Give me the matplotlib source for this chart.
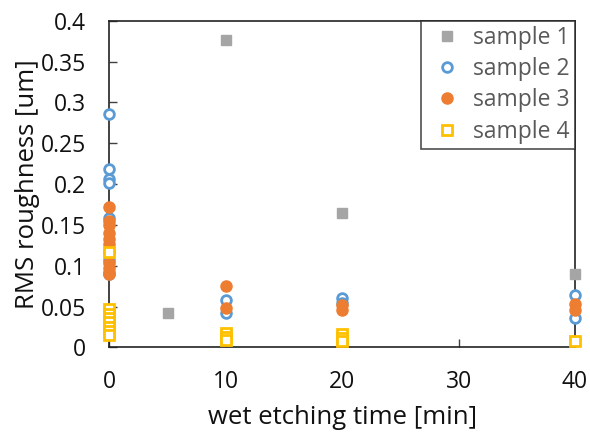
import matplotlib
matplotlib.use('Agg')
import matplotlib.pyplot as plt

plt.rcParams['font.family'] = ['Open Sans', 'DejaVu Sans']

# sample 1 (gray filled squares)
s1_x = [5, 10, 20, 40]
s1_y = [0.042, 0.376, 0.165, 0.090]

# sample 2 (blue open circles)
s2_x = [0, 0, 0, 0, 0, 0, 0, 0, 10, 10, 20, 20, 40, 40]
s2_y = [0.286, 0.218, 0.206, 0.201, 0.159, 0.117, 0.107, 0.090,
        0.058, 0.042, 0.060, 0.054, 0.064, 0.036]

# sample 3 (orange filled circles)
s3_x = [0, 0, 0, 0, 0, 0, 0, 0, 0, 0, 0, 10, 10, 20, 20, 40, 40]
s3_y = [0.172, 0.155, 0.150, 0.140, 0.133, 0.126, 0.117, 0.103, 0.097, 0.092,
        0.090, 0.0755, 0.048, 0.052, 0.046, 0.053, 0.046]

# sample 4 (yellow open squares)
s4_x = [0, 0, 0, 0, 0, 0, 0, 0, 10, 10, 10, 20, 20, 20, 40]
s4_y = [0.117, 0.047, 0.041, 0.036, 0.031, 0.025, 0.020, 0.015,
        0.018, 0.013, 0.009, 0.016, 0.012, 0.008, 0.008]

x_ticks = [0, 10, 20, 30, 40]
y_ticks = [0, 0.05, 0.1, 0.15, 0.2, 0.25, 0.3, 0.35, 0.4]
y_labels = ['0', '0.05', '0.1', '0.15', '0.2', '0.25', '0.3', '0.35', '0.4']

fig = plt.figure(figsize=(5.9, 4.32), dpi=100)
ax = fig.add_axes([0.1853, 0.196, 0.7893, 0.756])

ax.plot(s1_x, s1_y, ls='none', marker='s', ms=7, color='#A5A5A5',
        mec='#A5A5A5', label='sample 1', clip_on=False, zorder=3)
ax.plot(s2_x, s2_y, ls='none', marker='o', ms=7, mfc='white', mec='#5B9BD5',
        mew=2, label='sample 2', clip_on=False, zorder=3)
ax.plot(s3_x, s3_y, ls='none', marker='o', ms=8, color='#ED7D31',
        mec='#ED7D31', label='sample 3', clip_on=False, zorder=3)
ax.plot(s4_x, s4_y, ls='none', marker='s', ms=6.5, mfc='white', mec='#FFC000',
        mew=2, label='sample 4', clip_on=False, zorder=3)

ax.set_xlim(0, 40)
ax.set_ylim(0, 0.4)
ax.set_xticks(x_ticks)
ax.set_yticks(y_ticks)
ax.set_yticklabels(y_labels)
ax.tick_params(direction='in', length=6, width=1, color='#404040',
               labelsize=16.5, labelcolor='#111111')
ax.tick_params(axis='y', pad=17)
ax.tick_params(axis='x', pad=16)
for sp in ax.spines.values():
    sp.set_color('#222222')
    sp.set_linewidth(1.2)

ax.set_xlabel('wet etching time [min]', fontsize=18.5, color='#111111', labelpad=8)
ax.set_ylabel('RMS roughness [um]', fontsize=18.5, color='#111111', labelpad=0)

leg = ax.legend(loc='upper right', borderaxespad=0, fancybox=False,
                edgecolor='#222222', fontsize=16.5, handletextpad=0.25,
                handlelength=1.8, labelspacing=0.32, borderpad=0.22)
leg.get_frame().set_linewidth(1.2)
for t in leg.get_texts():
    t.set_color('#595959')

fig.savefig('out.png', dpi=100)
